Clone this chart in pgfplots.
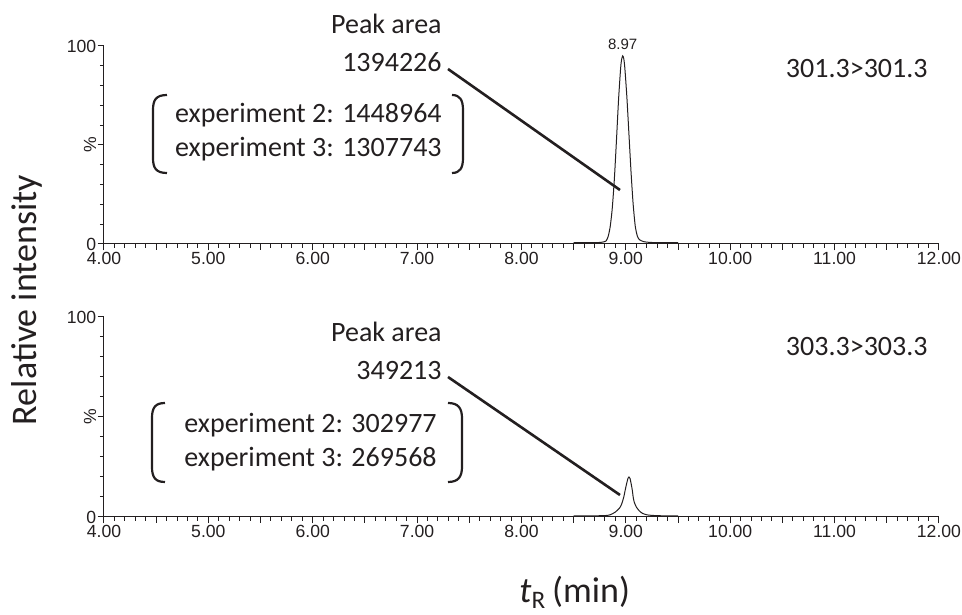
\documentclass[border=0pt]{standalone}
\usepackage{fontspec}
\setmainfont{Carlito}
\newfontfamily\arial{Liberation Sans}
\usepackage{pgfplots}
\pgfplotsset{compat=1.18}
\definecolor{ink}{HTML}{231F20}

% shared look of both chromatogram panels
\pgfplotsset{chrom/.style={
  scale only axis, width=417.5pt, anchor=south west,
  xmin=4, xmax=12, ymin=0, ymax=100,
  axis x line*=bottom, axis y line*=left,
  axis line style={-, ink, line width=0.5pt},
  tick style={ink, line width=0.5pt},
  tick align=outside,
  xtick={4,...,12},
  minor x tick num=9,
  extra x ticks={4.5,5.5,...,11.5}, extra x tick labels={},
  extra x tick style={major tick length=3pt},
  major tick length=3.2pt, minor tick length=2pt,
  ytick={0,50,100}, yticklabels={0,\rotatebox{90}{\%},100},
  minor y tick num=4,
  xticklabel style={font=\arial\fontsize{8.8}{10}\selectfont, inner sep=0.5pt, text=ink},
  yticklabel style={font=\arial\fontsize{8.8}{10}\selectfont, inner sep=0.5pt, text=ink},
  clip=false,
  /pgf/number format/.cd, fixed, fixed zerofill, precision=2, assume math mode=true,
}}

\begin{document}
\begin{tikzpicture}
\begin{scope}[x=0.5pt,y=-0.5pt]
\useasboundingbox (0,0) rectangle (962,615);
\end{scope}

% ===== top panel: 301.3>301.3 =====
\begin{axis}[chrom, at={(52pt,-122pt)}, height=99pt]
\addplot[ink, line width=0.5pt, smooth, tension=0.4] coordinates {
 (8.50,0.7)(8.60,0.7)(8.70,0.7)(8.76,0.8)(8.79,1.1)(8.81,1.5)
 (8.83,3.7)(8.85,8.8)(8.87,18.2)(8.89,33)(8.91,52.4)(8.93,72.9)
 (8.95,88.9)(8.96,93.4)(8.97,95)(8.98,93.6)(8.99,89)(9.01,74)
 (9.03,55)(9.05,36)(9.07,20)(9.09,9)(9.11,4)(9.13,2.2)(9.17,1.2)
 (9.23,0.8)(9.32,0.7)(9.50,0.7)};
\node[font=\arial\fontsize{7.5}{9}\selectfont, text=ink, anchor=base, yshift=3.3pt]
 at (axis cs:8.97,95) {8.97};
\end{axis}

% ===== bottom panel: 303.3>303.3 =====
\begin{axis}[chrom, at={(52pt,-258.5pt)}, height=100pt]
\addplot[ink, line width=0.5pt, smooth, tension=0.4] coordinates {
 (8.50,0.6)(8.70,0.6)(8.80,0.7)(8.85,1.1)(8.90,2.5)(8.94,4.5)
 (8.96,6.5)(8.98,10)(9.00,15)(9.02,19.3)(9.03,20)(9.04,19.3)
 (9.06,14)(9.07,10)(9.08,7.5)(9.10,5)(9.13,3)(9.16,1.8)(9.20,1.1)
 (9.25,0.8)(9.35,0.6)(9.50,0.6)};
\end{axis}

% ===== annotations (pixel grid of the reference) =====
\begin{scope}[x=0.5pt,y=-0.5pt, every node/.style={text=ink, inner sep=0pt}]
\def\ann{\fontsize{14}{16}\selectfont}
% top
\node[anchor=base east, font=\ann] at (442,34) {Peak area};
\node[anchor=base east, font=\ann] at (442,72) {1394226};
\draw[ink, line width=1.3pt] (448,69) -- (620,190);
\node[anchor=base east, font=\ann] at (442,123) {experiment 2: 1448964};
\node[anchor=base east, font=\ann] at (442,157) {experiment 3: 1307743};
\draw[ink, line width=1.1pt] (167,95) .. controls (156,95) and (153,100) .. (153,110)
 -- (153,158) .. controls (153,168) and (156,173) .. (167,173);
\draw[ink, line width=1.1pt] (452,95) .. controls (460,95) and (463,100) .. (463,110)
 -- (463,158) .. controls (463,168) and (460,173) .. (452,173);
\node[anchor=base east, font=\ann] at (928,78) {301.3>301.3};
% bottom
\node[anchor=base east, font=\ann] at (442,342) {Peak area};
\node[anchor=base east, font=\ann] at (442,380) {349213};
\draw[ink, line width=1.3pt] (448,377) -- (620,495);
\node[anchor=base east, font=\ann] at (437,433) {experiment 2: 302977};
\node[anchor=base east, font=\ann] at (437,467) {experiment 3: 269568};
\draw[ink, line width=1.1pt] (165,403) .. controls (155,403) and (152,408) .. (152,418)
 -- (152,467) .. controls (152,477) and (155,482) .. (165,482);
\draw[ink, line width=1.1pt] (448,403) .. controls (458,403) and (462,408) .. (462,418)
 -- (462,467) .. controls (462,477) and (458,482) .. (448,482);
\node[anchor=base east, font=\ann] at (928,356) {303.3>303.3};
% axis titles
\node[rotate=90, font=\fontsize{18}{20}\selectfont] at (27,300) {Relative intensity};
\node[anchor=base west, font=\fontsize{18}{20}\selectfont] at (519,603)
 {\textit{t}\textsubscript{R}\,(min)};
\end{scope}
\end{tikzpicture}
\end{document}
